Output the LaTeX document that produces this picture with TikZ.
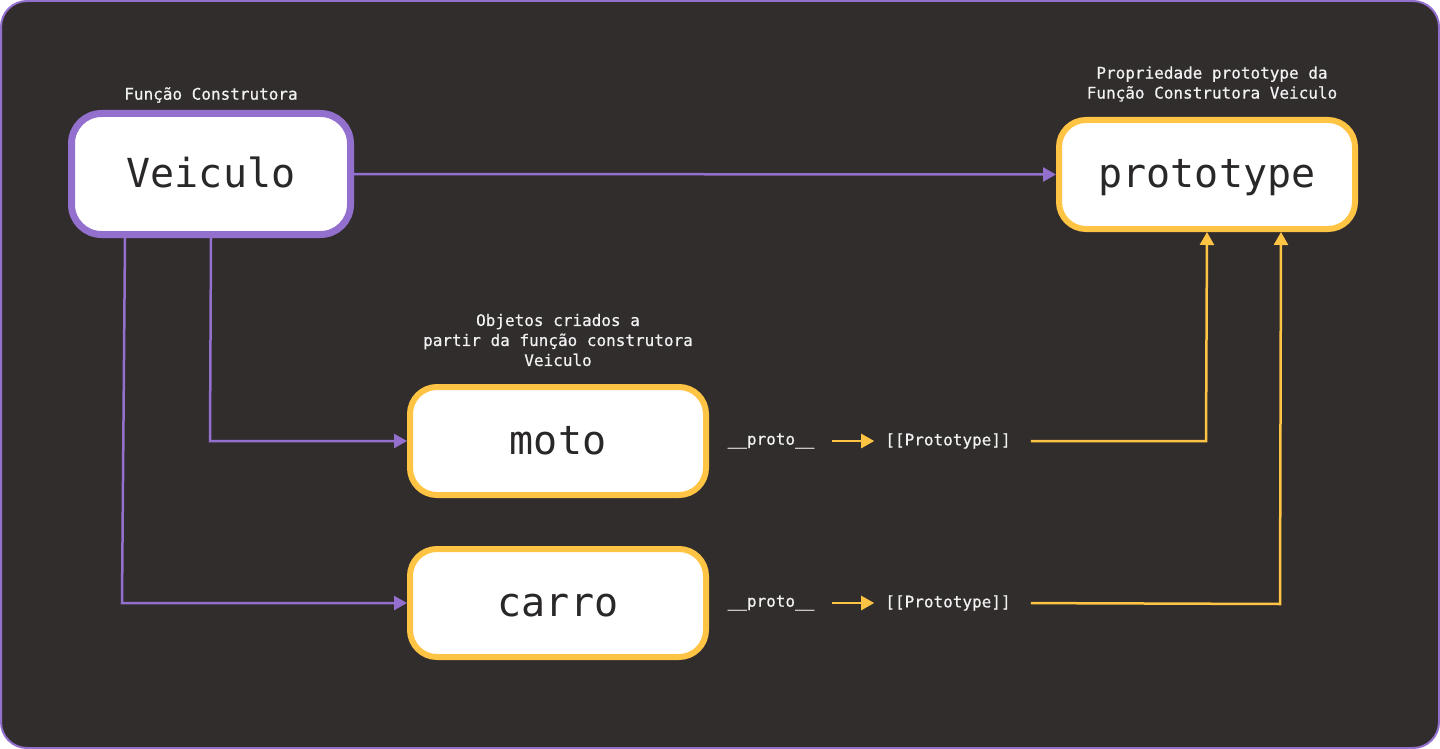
\documentclass[tikz,border=0pt]{standalone}
\usepackage{fontspec}
\setmonofont{DejaVu Sans Mono}
\newfontfamily\medmono[FakeBold=0.5]{DejaVu Sans Mono}
\usetikzlibrary{arrows.meta,calc}
\definecolor{bgdark}{HTML}{312D2D}
\definecolor{vpurple}{HTML}{9370CD}
\definecolor{vyellow}{HTML}{FFC444}
\definecolor{boxtext}{HTML}{2A2727}
\definecolor{lighttext}{HTML}{F2F2F2}
\tikzset{
  purplebox/.style={draw=vpurple,line width=7pt,fill=white,rounded corners=30pt,
    minimum width=279pt,minimum height=121pt,inner sep=0pt,text height=26pt,text depth=0pt,
    font=\ttfamily\fontsize{40}{42}\selectfont,text=boxtext},
  yellowbox/.style={draw=vyellow,line width=6pt,fill=white,rounded corners=27pt,
    minimum width=296pt,minimum height=108pt,inner sep=0pt,text height=26pt,text depth=0pt,
    font=\ttfamily\fontsize{40}{42}\selectfont,text=boxtext},
  caption/.style={font=\medmono\fontsize{16}{20}\selectfont,text=lighttext,
    align=center,inner sep=0pt},
  smalltxt/.style={font=\medmono\fontsize{16}{18}\selectfont,text=lighttext,inner sep=0pt},
  plink/.style={draw=vpurple,line width=2.5pt,-{Triangle[length=13pt,width=14pt]}},
  ylink/.style={draw=vyellow,line width=2.5pt,-{Triangle[length=13pt,width=14pt]}},
}
\begin{document}
\begin{tikzpicture}[x=1pt,y=-1pt]
\useasboundingbox (0,0) rectangle (1440,749);
\fill[white] (0,0) rectangle (1440,749);
\draw[vpurple,line width=2pt,fill=bgdark,rounded corners=26pt] (1,1) rectangle (1439,748);

\node[purplebox] (veiculo) at (211,174) {Veiculo};
\node[yellowbox,minimum height=109pt] (prototype) at (1207,174.5) {prototype};
\node[yellowbox] (moto) at (558,441) {moto};
\node[yellowbox] (carro) at (558,603) {carro};

\node[caption] (capv) at (211,95) {Função Construtora};
\node[caption] (capp) at (1212,84) {Propriedade prototype da\\Função Construtora Veiculo};
\node[caption] (capo) at (558,340) {Objetos criados a\\partir da função construtora\\Veiculo};

\node[smalltxt] (proto1) at (771,441) {\_\_proto\_\_};
\node[smalltxt] (pt1) at (948,441) {[[Prototype]]};
\node[smalltxt] (proto2) at (771,603) {\_\_proto\_\_};
\node[smalltxt] (pt2) at (948,603) {[[Prototype]]};

% purple connectors
\draw[plink] (veiculo.east) -- (prototype.west);
\coordinate (vb1) at (211,238);
\coordinate (vb2) at (125,238);
\coordinate (k1) at (210,441);
\coordinate (k2) at (122,603);
\draw[plink] (vb1) -- (k1) -- (moto.west);
\draw[plink] (vb2) -- (k2) -- (carro.west);

% yellow connectors
\draw[ylink,shorten <=17pt,shorten >=11pt] (proto1.east) -- (pt1.west);
\draw[ylink,shorten <=17pt,shorten >=11pt] (proto2.east) -- (pt2.west);
\coordinate (ps2) at (1281,232);
\coordinate (k3) at (1206,441);
\coordinate (k4) at (1280,604);
\draw[ylink,shorten <=20pt] (pt1.east) -- (k3) -- (prototype.south);
\draw[ylink,shorten <=20pt] (pt2.east) -- (k4) -- (ps2);
\end{tikzpicture}
\end{document}
